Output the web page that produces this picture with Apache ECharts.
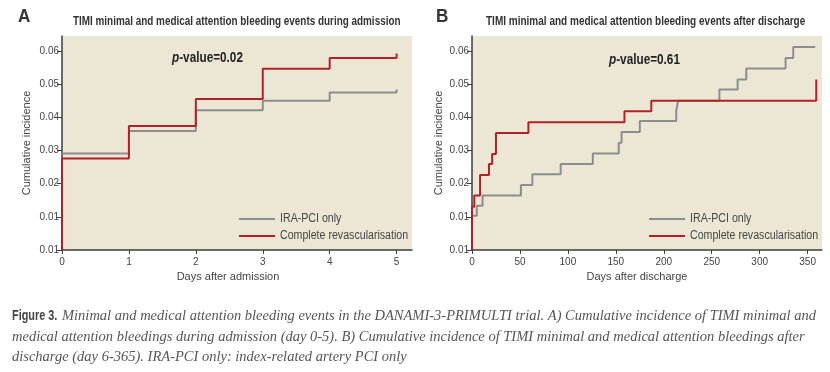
<!DOCTYPE html>
<html><head><meta charset="utf-8">
<script src="https://cdn.jsdelivr.net/npm/echarts@6/dist/echarts.min.js"></script>
<style>html,body{margin:0;padding:0;background:#fff}#c{width:830px;height:372px}</style>
</head><body><div id="c"></div>
<script>
// ---- data ----
const yTickValues = [0, 0.01, 0.02, 0.03, 0.04, 0.05, 0.06];
const yTickLabels = ['0.01', '0.01', '0.02', '0.03', '0.04', '0.05', '0.06'];
const xTicksA = [0, 1, 2, 3, 4, 5];
const xTicksB = [0, 50, 100, 150, 200, 250, 300, 350];

const daysA_ira = [0, 1, 2, 3, 4, 5];
const incA_ira = [0.0291, 0.0359, 0.0421, 0.0450, 0.0475, 0.0484];
const daysA_cr = [0, 0, 1, 2, 3, 4, 5];
const incA_cr = [0, 0.0276, 0.0374, 0.0455, 0.0546, 0.0579, 0.0592];

const daysB_ira = [0, 5, 11, 51, 63, 92.5, 126, 153, 156, 175, 213, 215, 258, 277, 286, 327, 335, 358];
const incB_ira = [0.0103, 0.0133, 0.0164, 0.0196, 0.0228, 0.0259, 0.0291, 0.0323, 0.0356, 0.0389, 0.0420, 0.0450, 0.0484, 0.0514, 0.0547, 0.0579, 0.0612, 0.0612];
const daysB_cr = [0, 0, 2.4, 8.4, 17.7, 21, 25, 58.8, 159, 187, 359];
const incB_cr = [0, 0.0130, 0.0164, 0.0226, 0.0259, 0.0289, 0.0353, 0.0385, 0.0418, 0.0450, 0.0514];

const seriesNames = ['IRA-PCI only', 'Complete revascularisation'];
const titles = ['TIMI minimal and medical attention bleeding events during admission',
                'TIMI minimal and medical attention bleeding events after discharge'];
const pValues = ['0.02', '0.61'];
const xNames = ['Days after admission', 'Days after discharge'];
const yName = 'Cumulative incidence';
const caption = [
  'Minimal and medical attention bleeding events in the DANAMI-3-PRIMULTI trial. A) Cumulative incidence of TIMI minimal and',
  'medical attention bleedings during admission (day 0-5). B) Cumulative incidence of TIMI minimal and medical attention bleedings after',
  'discharge (day 6-365). IRA-PCI only: index-related artery PCI only'
];

// ---- styles ----
const SANS = "'Liberation Sans', Arial, sans-serif";
const SERIF = "'Liberation Serif', 'Times New Roman', serif";
const GRAY = '#8d8d8d', RED = '#b4202a', AXIS = '#3d3d3d', BG = '#ece7d5', TXT = '#444';
const COLORS = [GRAY, RED];

const zip = (a, b) => a.map((v, i) => [v, b[i]]);

function xAxis(gi, max, ticks, name, shift) {
  return {
    type: 'value', gridIndex: gi, min: 0, max: max,
    splitLine: {show: false},
    axisLine: {lineStyle: {color: AXIS, width: 1.5}},
    axisTick: {show: true, length: 4, customValues: ticks, lineStyle: {color: AXIS}},
    axisLabel: {customValues: ticks, color: TXT, fontFamily: SANS, fontSize: 10, margin: 7},
    name: name, nameLocation: 'middle', nameGap: 18,
    nameTextStyle: {color: TXT, fontFamily: SANS, fontSize: 11, padding: [0, shift, 0, 0]}
  };
}
function yAxis(gi, gap) {
  return {
    type: 'value', gridIndex: gi, min: 0, max: 0.0645,
    splitLine: {show: false},
    axisLine: {show: true, lineStyle: {color: AXIS, width: 1.5}},
    axisTick: {show: true, length: 5, customValues: yTickValues, lineStyle: {color: AXIS}},
    axisLabel: {customValues: yTickValues, color: TXT, fontFamily: SANS, fontSize: 10, margin: 3,
      formatter: v => { const i = yTickValues.findIndex(t => Math.abs(t - v) < 1e-9); return i >= 0 ? yTickLabels[i] : ''; }},
    name: yName, nameLocation: 'middle', nameGap: gap,
    nameTextStyle: {color: TXT, fontFamily: SANS, fontSize: 11}
  };
}
function line(name, xi, data, color) {
  return {type: 'line', name: name, xAxisIndex: xi, yAxisIndex: xi, data: data, step: 'end',
    showSymbol: false, symbol: 'none', lineStyle: {color: color, width: 2}, itemStyle: {color: color},
    animation: false, z: name === seriesNames[1] ? 3 : 2};
}
function ctext(x, y, text, font, fill, sx, extra) {
  return Object.assign({type: 'text', x: x, y: y, scaleX: sx, silent: true,
    style: {text: text, font: font, fill: fill, textAlign: 'left', textVerticalAlign: 'middle'}}, extra || {});
}
function legendEls(x0, y0) {
  const els = [];
  seriesNames.forEach((n, i) => {
    const y = y0 + i * 17;
    els.push({type: 'line', silent: true, shape: {x1: x0, y1: y, x2: x0 + 36, y2: y},
      style: {stroke: COLORS[i], lineWidth: 2}});
    els.push(ctext(x0 + 41, y, n, "12.5px " + SANS, TXT, 0.85));
  });
  return els;
}
function pText(x, y, v) {
  return {type: 'text', x: x, y: y, scaleX: 0.84, silent: true, style: {
    text: '{i|p}{b|-value=' + v + '}', textVerticalAlign: 'middle',
    rich: {i: {font: "italic bold 14px " + SANS, fill: '#222'}, b: {font: "bold 14px " + SANS, fill: '#222'}}}};
}

const chart = echarts.init(document.getElementById('c'), null, {renderer: 'canvas'});
chart.setOption({
  backgroundColor: '#fff',
  animation: false,
  grid: [
    {left: 62, top: 36, width: 350, height: 214, show: true, backgroundColor: BG, borderWidth: 0},
    {left: 472, top: 36, width: 350, height: 214, show: true, backgroundColor: BG, borderWidth: 0}
  ],
  xAxis: [xAxis(0, 5.23, xTicksA, xNames[0], 18), xAxis(1, 365, xTicksB, xNames[1], 20)],
  yAxis: [yAxis(0, 30), yAxis(1, 28)],
  series: [
    line(seriesNames[0], 0, zip(daysA_ira, incA_ira), GRAY),
    line(seriesNames[1], 0, zip(daysA_cr, incA_cr), RED),
    line(seriesNames[0], 1, zip(daysB_ira, incB_ira), GRAY),
    line(seriesNames[1], 1, zip(daysB_cr, incB_cr), RED)
  ],
  graphic: [
    ctext(18, 17, 'A', "bold 19px " + SANS, '#333', 0.9),
    ctext(73, 21, titles[0], "bold 13px " + SANS, '#333', 0.762),
    ctext(436, 17, 'B', "bold 19px " + SANS, '#333', 0.9),
    ctext(486, 21, titles[1], "bold 13px " + SANS, '#333', 0.77),
    pText(172, 58, pValues[0]),
    pText(609, 60, pValues[1]),
    ...legendEls(239, 219),
    ...legendEls(649, 219),
    ctext(12, 316, 'Figure 3.', "bold 14.5px " + SANS, '#444', 0.75),
    ctext(62, 316, caption[0], "italic 14.5px " + SERIF, '#555', 1),
    ctext(12, 337, caption[1], "italic 14.5px " + SERIF, '#555', 1),
    ctext(12, 357, caption[2], "italic 14.5px " + SERIF, '#555', 1)
  ]
});
</script></body></html>
